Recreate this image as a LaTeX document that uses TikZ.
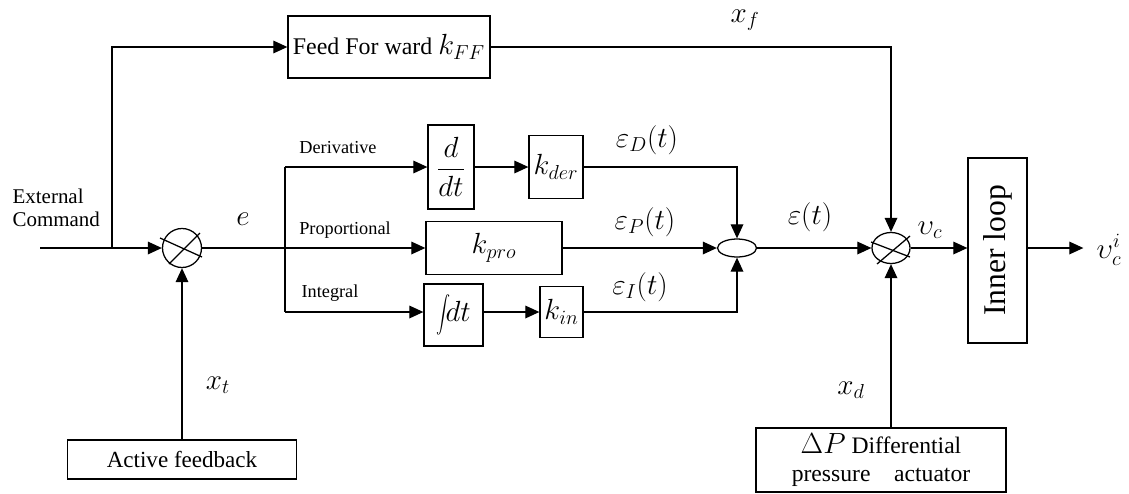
\documentclass[tikz,border=0pt]{standalone}
\usepackage{graphicx}
\usepackage{fontspec}
\setmainfont{Liberation Serif}
\usetikzlibrary{arrows.meta,shapes.geometric}
\newcommand{\fsz}[1]{\fontsize{#1}{#1}\selectfont}

\begin{document}
\begin{tikzpicture}[x=0.025cm,y=-0.025cm,line width=0.9pt,
		blk/.style={draw,inner sep=0pt},
		arr/.style={-{Triangle[length=10pt,width=9pt]}},
		lbl/.style={inner sep=0pt,font=\fsz{22}},
		tag/.style={inner sep=0pt,font=\fsz{13}}]
		\useasboundingbox (0,0) rectangle (1129,493);
		\node[blk,circle,minimum size=0.975cm] (sumA) at (182,248) {};
		\node[blk,ellipse,minimum width=0.975cm,minimum height=0.45cm] (sumB) at (737,248) {};
		\node[blk,ellipse,minimum width=0.95cm,minimum height=0.775cm] (sumC) at (891,248) {};
		\node[blk,minimum width=5.05cm,minimum height=1.55cm,font=\fsz{17}] (ff) at (389,47) {Feed For ward\ {\fsz{20}$k_{FF}$}};
		\node[blk,minimum width=1.15cm,minimum height=2.1cm,font=\fsz{22}] (ddt) at (451,167) {$\displaystyle\frac{d}{dt}$};
		\node[blk,minimum width=1.35cm,minimum height=1.575cm,font=\fsz{22}] (kder) at (556,167) {$k_{der}$};
		\node[blk,minimum width=3.4cm,minimum height=1.325cm,font=\fsz{22}] (kpro) at (494,248) {$k_{pro}$};
		\node[blk,minimum width=1.475cm,minimum height=1.55cm,font=\fsz{22}] (intg) at (453.5,315) {\raisebox{-2pt}{\scalebox{1}[1.3]{$\displaystyle\int$}}$\!dt$};
		\node[blk,minimum width=1.075cm,minimum height=1.275cm,font=\fsz{22}] (kin) at (561.5,312) {$k_{in}$};
		\node[blk,minimum width=1.475cm,minimum height=4.625cm] (inner) at (997.5,250.5) {};
		\node[rotate=90,inner sep=0pt,font=\fsz{22.5}] (innertxt) at (inner.center) {Inner loop};
		\node[blk,minimum width=5.725cm,minimum height=0.975cm,font=\fsz{16.4}] (act) at (182,459.5) {Active feedback};
		\node[blk,minimum width=6.25cm,minimum height=1.6cm,align=center,font=\fsz{16.8}] (dp) at (881,460) {{\fsz{22}$\Delta P$} Differential\\[3pt]pressure\quad actuator};
		\node[inner sep=0pt,anchor=west,align=left,font=\fsz{14.9}] (ext) at (12,208) {External\\[1pt]Command};
		\node[tag] (tder) at (338,148) {Derivative};
		\node[tag] (tpro) at (345,230) {Proportional};
		\node[tag] (tint) at (330,293) {Integral};
		\node[lbl] (le) at (243,219) {$e$};
		\node[lbl] (leD) at (647,140) {$\varepsilon_D(t)$};
		\node[lbl] (leP) at (645,222) {$\varepsilon_P(t)$};
		\node[lbl] (leI) at (640,287) {$\varepsilon_I(t)$};
		\node[lbl] (leps) at (810,217) {$\varepsilon(t)$};
		\node[lbl] (lvc) at (930,230) {$\upsilon_c$};
		\node[lbl] (lxf) at (745,20) {$x_f$};
		\node[lbl] (lxt) at (218,385) {$x_t$};
		\node[lbl] (lxd) at (851,390) {$x_d$};
		\node[lbl,anchor=west] (vout) at (1096,250) {$\upsilon_c^i$};
		\coordinate (in) at (40,248);
		\coordinate (split) at (112,248);
		\coordinate (dtop) at (285,167);
		\coordinate (dbot) at (285,312);
		\coordinate (dmid) at (285,248);
		\draw[arr] (in) -- (sumA.west);
		\draw[arr] (split) |- (ff.west);
		\draw[arr] (ff.east) -| (sumC.north);
		\draw[arr] (act.north) -- (sumA.south);
		\draw (sumA.east) -- (dmid);
		\draw (dtop) -- (dbot);
		\draw[arr] (dtop) -- (ddt.west);
		\draw[arr] (dmid) -- (kpro.west);
		\draw[arr] (dbot) -- (intg.west |- dbot);
		\draw[arr] (ddt.east) -- (kder.west);
		\draw[arr] (intg.east |- kin) -- (kin.west);
		\draw[arr] (kder.east) -| (sumB.north);
		\draw[arr] (kpro.east) -- (sumB.west);
		\draw[arr] (kin.east) -| (sumB.south);
		\draw[arr] (sumB.east) -- (sumC.west);
		\draw[arr] (sumC |- dp.north) -- (sumC.south);
		\draw[arr] (sumC.east) -- (inner.west |- sumC);
		\draw[arr] (inner.east |- sumC) -- ([xshift=-9pt]vout.west |- sumC);
		\draw ([shift={(-22,-10)}]sumA.center) -- ([shift={(20,9)}]sumA.center);
		\draw ([shift={(-13,16)}]sumA.center) -- ([shift={(18,-15)}]sumA.center);
		\draw ([shift={(-20,-6)}]sumC.center) -- ([shift={(19,9)}]sumC.center);
		\draw ([shift={(-14,16)}]sumC.center) -- ([shift={(19,-12)}]sumC.center);
	\end{tikzpicture}
\end{document}
